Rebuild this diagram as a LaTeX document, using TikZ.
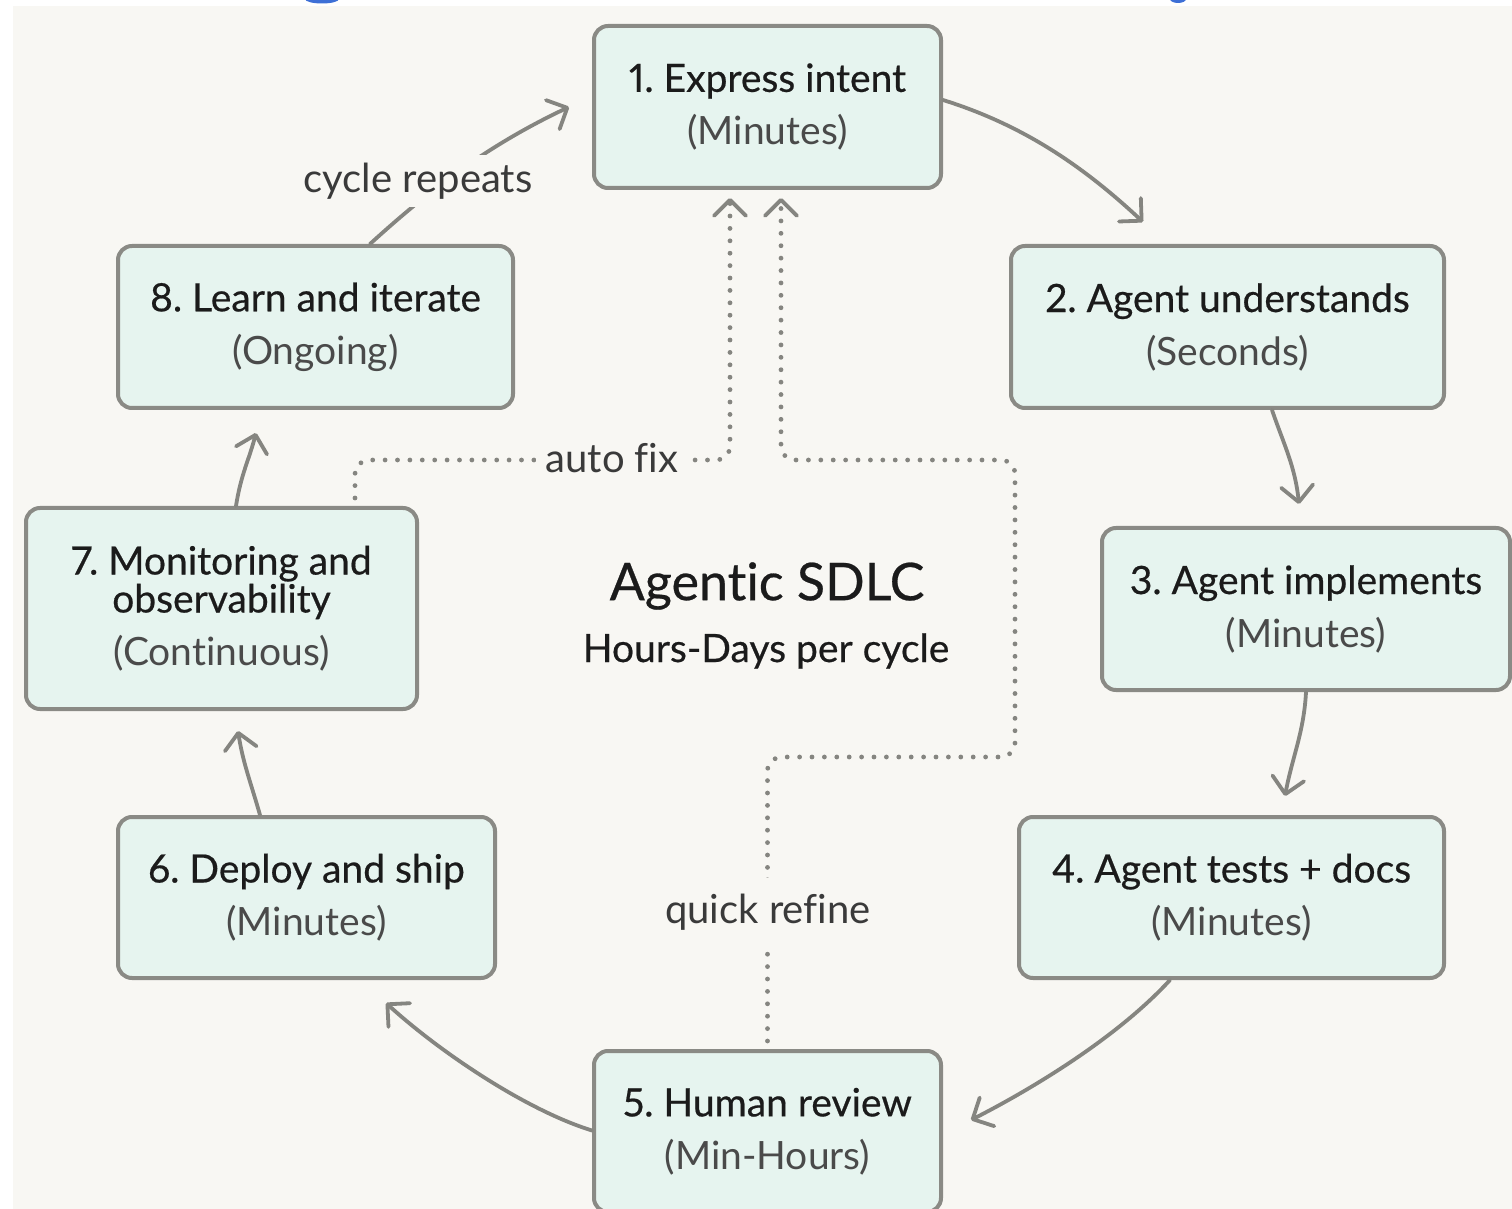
\documentclass[tikz,border=0pt]{standalone}
\usepackage{fontspec}
\setmainfont{Lato}[Ligatures=NoCommon,Numbers=Proportional]
\newfontfamily\medfont{Lato}[Ligatures=NoCommon,Numbers=Proportional,FakeBold=0.5]
\frenchspacing
\usetikzlibrary{arrows.meta,calc}
\definecolor{bgpanel}{HTML}{F8F7F3}
\definecolor{boxfill}{HTML}{E6F4EF}
\definecolor{boxline}{HTML}{8A8A85}
\definecolor{arrowgray}{HTML}{858580}
\definecolor{titletext}{HTML}{1B1B1B}
\definecolor{subtext}{HTML}{4A4A4A}
\definecolor{labeltext}{HTML}{3A3A3A}
\definecolor{titleblue}{HTML}{3D6FD6}
\newcommand{\stagesub}[1]{{\normalfont\color{subtext}#1}}
\begin{document}
\begin{tikzpicture}[x=0.5pt,y=-0.5pt,
  stagebox/.style={draw=boxline, line width=2pt, fill=boxfill, rounded corners=7pt, inner sep=0pt, align=center, text=titletext, font=\medfont\fontsize{19.5}{19}\selectfont},
  flow/.style={draw=arrowgray, line width=1.9pt, line cap=round, -{Straight Barb[length=8pt,width=16pt,round]}},
  dotflow/.style={draw=arrowgray, line width=2.4pt, line cap=round, dash pattern=on 0pt off 6.2pt, rounded corners=7pt, -{Straight Barb[length=8pt,width=16pt,round,line width=1.9pt]}},
  looplabel/.style={fill=bgpanel, text=labeltext, font=\fontsize{20}{24}\selectfont, inner sep=4pt},
  centertitle/.style={text=titletext, font=\medfont\fontsize{26}{30}\selectfont, inner sep=0pt},
  centersub/.style={text=titletext, font=\medfont\fontsize{19.5}{24}\selectfont, inner sep=0pt}
]
\useasboundingbox (0,0) rectangle (1512,1209);
\fill[white] (0,0) rectangle (1512,1209);
\fill[bgpanel] (13,6) rectangle (1512,1209);
% cut-off title fragments
\fill[titleblue] (322,-1) ellipse [x radius=17, y radius=4.5];
\fill[titleblue] (1178,-1) ellipse [x radius=8, y radius=4];

% stages
\node[stagebox, minimum width=173.5pt, minimum height=81pt] (b1) at (767.5,107) {1. Express intent\\[7.5pt]\stagesub{(Minutes)}};
\node[stagebox, minimum width=216.5pt, minimum height=81pt] (b2) at (1227.5,327) {2. Agent understands\\[7.5pt]\stagesub{(Seconds)}};
\node[stagebox, minimum width=204pt, minimum height=81pt] (b3) at (1306,609) {3. Agent implements\\[7.5pt]\stagesub{(Minutes)}};
\node[stagebox, minimum width=212.5pt, minimum height=80.5pt] (b4) at (1231.5,897.5) {4. Agent tests + docs\\[7.5pt]\stagesub{(Minutes)}};
\node[stagebox, minimum width=173.5pt, minimum height=80.5pt] (b5) at (767.5,1131.5) {5. Human review\\[7.5pt]\stagesub{(Min-Hours)}};
\node[stagebox, minimum width=188.5pt, minimum height=80.5pt] (b6) at (306.5,897.5) {6. Deploy and ship\\[7.5pt]\stagesub{(Minutes)}};
\node[stagebox, minimum width=195.5pt, minimum height=100.5pt] (b7) at (221.5,608.5) {7. Monitoring and\\observability\\[7.5pt]\stagesub{(Continuous)}};
\node[stagebox, minimum width=197.5pt, minimum height=81pt] (b8) at (315.5,327) {8. Learn and iterate\\[7.5pt]\stagesub{(Ongoing)}};

% centre
\node[centertitle] (ctitle) at (767,586) {Agentic SDLC};
\node[centersub] (csub) at (766,651) {Hours-Days per cycle};

% arrow tips (free ends)
\coordinate (t12) at (1143,222);
\coordinate (t23) at (1299,504);
\coordinate (t34) at (1285,796);
\coordinate (t45) at (971,1120);
\coordinate (t56) at (386,1003);
\coordinate (t67) at (238,731);
\coordinate (t78) at (256,433);
\coordinate (t81) at (569,107);
\coordinate (tAF) at (730,198);
\coordinate (tQR) at (781,198);

% main cycle
\draw[flow] ($(b1.east)+(0,-7)$) .. controls +(80,25) and +(-60,-56) .. (t12);
\draw[flow] ($(b2.south)+(44.5,0)$) .. controls +(12,35) and +(-4,-38) .. (t23);
\draw[flow] (b3.south) .. controls +(-2,40) and +(7,-38) .. (t34);
\draw[flow] ($(b4.south)+(-61.5,0)$) .. controls +(-55,60) and +(55,-28) .. (t45);
\draw[flow] ($(b5.west)+(0,-1)$) .. controls +(-65,-20) and +(55,50) .. (t56);
\draw[flow] ($(b6.north)+(-46.5,0)$) .. controls +(-10,-35) and +(5,32) .. (t67);
\draw[flow] ($(b7.north)+(14.5,0)$) .. controls +(5,-32) and +(-7,27) .. (t78);
\draw[flow] ($(b8.north)+(54.5,0)$) .. controls +(55,-50) and +(-85,40) .. (t81);
\node[looplabel] (lcycle) at (418,181) {cycle repeats};

% feedback loops
\coordinate (af1) at ($(b7.north)+(133.5,-8)$);
\coordinate (afc) at (730,460);
\draw[dotflow] (af1) |- (afc) -- (tAF);
\node[looplabel, inner xsep=5pt] (lauto) at (612,458) {auto fix};

\coordinate (qr1) at ($(b5.north)+(0,-8)$);
\coordinate (qrA) at (767.5,757);
\coordinate (qrB) at (1015,757);
\coordinate (qrC) at (1015,460);
\coordinate (qrD) at (781,460);
\draw[dotflow] (qr1) -- (qrA) -- (qrB) -- (qrC) -- (qrD) -- (tQR);
\node[looplabel, inner ysep=8pt] (lquick) at (768,912) {quick refine};
\end{tikzpicture}
\end{document}
